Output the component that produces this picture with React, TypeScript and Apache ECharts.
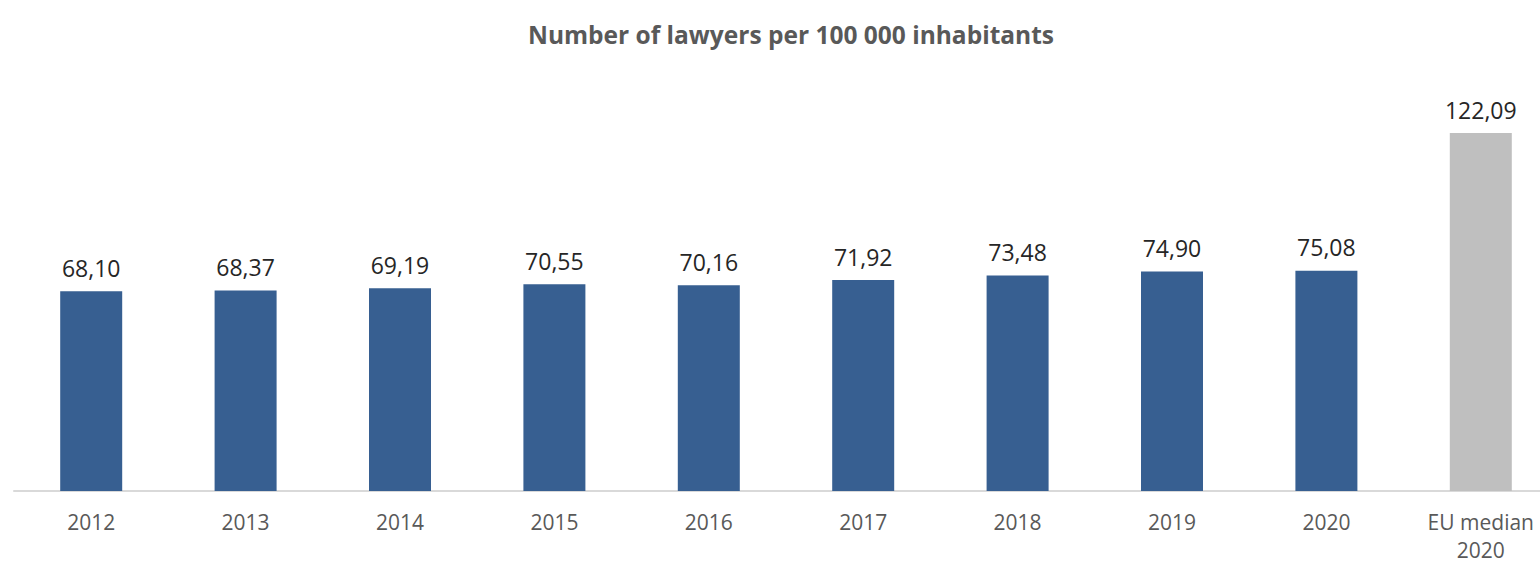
import React, { useEffect, useRef } from "react";
import * as echarts from "echarts";

const categories = ["2012", "2013", "2014", "2015", "2016", "2017", "2018", "2019", "2020", "EU median\n2020"];
const values = [68.10, 68.37, 69.19, 70.55, 70.16, 71.92, 73.48, 74.90, 75.08, 122.09];
const highlightIndex = 9;
const titleText = "Number of lawyers per 100 000 inhabitants";

export default function App() {
  const ref = useRef<HTMLDivElement>(null);
  useEffect(() => {
    if (!ref.current) return;
    const chart = echarts.init(ref.current, undefined, { renderer: "svg" });
    const font = "'Open Sans', 'Noto Sans', sans-serif";
    chart.setOption({
      animation: false,
      textStyle: { fontFamily: font },
      title: {
        text: titleText,
        left: 786,
        top: 17,
        textAlign: "center",
        textStyle: { fontFamily: font, fontSize: 24.5, fontWeight: "bold", color: "#595959" },
      },
      grid: { left: 14, right: 2, top: 80.5, bottom: 68, containLabel: false },
      xAxis: {
        type: "category",
        data: categories,
        axisLine: { show: true, lineStyle: { color: "#D9D9D9", width: 2 } },
        axisTick: { show: false },
        axisLabel: { color: "#595959", fontSize: 21, margin: 17, fontFamily: font, lineHeight: 28 },
      },
      yAxis: {
        type: "value",
        min: 0,
        max: 140,
        show: false,
        splitLine: { show: false },
      },
      series: [
        {
          type: "bar",
          barWidth: 62,
          data: values.map((v, i) => ({
            value: v,
            itemStyle: { color: i === highlightIndex ? "#BFBFBF" : "#375F91" },
          })),
          label: {
            show: true,
            position: "top",
            distance: 12,
            color: "#262626",
            fontSize: 23,
            fontFamily: font,
            formatter: (p: any) => Number(p.value).toFixed(2).replace(".", ","),
          },
        },
      ],
    });
    return () => chart.dispose();
  }, []);
  return (
    <div style={{ position: "fixed", left: 0, top: 0, width: 1540, height: 564, overflow: "hidden", background: "#fff" }}>
      <div ref={ref} style={{ width: 1560, height: 564 }} />
    </div>
  );
}
